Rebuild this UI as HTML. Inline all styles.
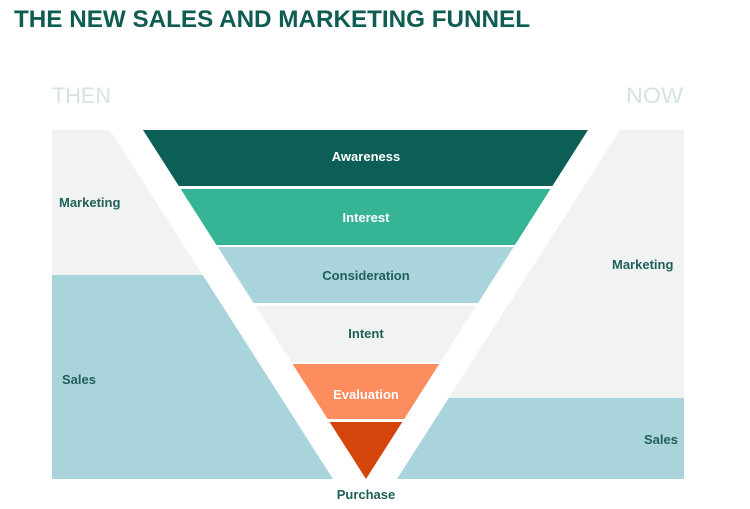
<!DOCTYPE html>
<html><head><meta charset="utf-8"><style>
html,body{margin:0;padding:0;background:#fff;}
svg{display:block;}
text{font-family:"Liberation Sans",sans-serif;}
</style></head><body>
<svg width="750" height="509" viewBox="0 0 750 509" xmlns="http://www.w3.org/2000/svg">
<text x="14" y="27" font-size="24" font-weight="bold" fill="#0f5d52" textLength="516" lengthAdjust="spacingAndGlyphs">THE NEW SALES AND MARKETING FUNNEL</text>
<text x="52" y="103" font-size="22" fill="#d4e4e2" textLength="59" lengthAdjust="spacingAndGlyphs">THEN</text>
<text x="626" y="103" font-size="22" fill="#d4e4e2" textLength="57" lengthAdjust="spacingAndGlyphs">NOW</text>
<polygon points="52,130 110,130 202.7,275 52,275" fill="#f0f3f2"/>
<polygon points="52,275 202.7,275 333,479 52,479" fill="#a9d4dc"/>
<polygon points="620,130 684,130 684,398 448.7,398" fill="#f0f3f2"/>
<polygon points="448.7,398 684,398 684,479 397,479" fill="#a9d4dc"/>
<polygon points="143,130 588,130 552.4,186 178.8,186" fill="#0b5f56"/>
<polygon points="180.7,189 550.5,189 514.9,245 216.5,245" fill="#35b596"/>
<polygon points="217.8,247 513.6,247 478,303 253.5,303" fill="#a9d4dc"/>
<polygon points="255.5,306 476.1,306 440.4,362 291.2,362" fill="#f0f3f2"/>
<polygon points="292.5,364 439.2,364 404.2,419 327.7,419" fill="#fd8c5f"/>
<polygon points="329.6,422 402.3,422 366,479" fill="#d4450c"/>
<g font-size="13" font-weight="bold" text-anchor="middle">
<text x="366" y="161" fill="#fff">Awareness</text>
<text x="366" y="222" fill="#fff">Interest</text>
<text x="366" y="280" fill="#1f5f58">Consideration</text>
<text x="366" y="338" fill="#1f5f58">Intent</text>
<text x="366" y="399" fill="#fff">Evaluation</text>
<text x="366" y="499" fill="#1f5f58">Purchase</text>
</g>
<g font-size="13" font-weight="bold" fill="#1f5f58">
<text x="59" y="207">Marketing</text>
<text x="62" y="384">Sales</text>
<text x="612" y="269">Marketing</text>
<text x="644" y="444">Sales</text>
</g>
</svg>
</body></html>
